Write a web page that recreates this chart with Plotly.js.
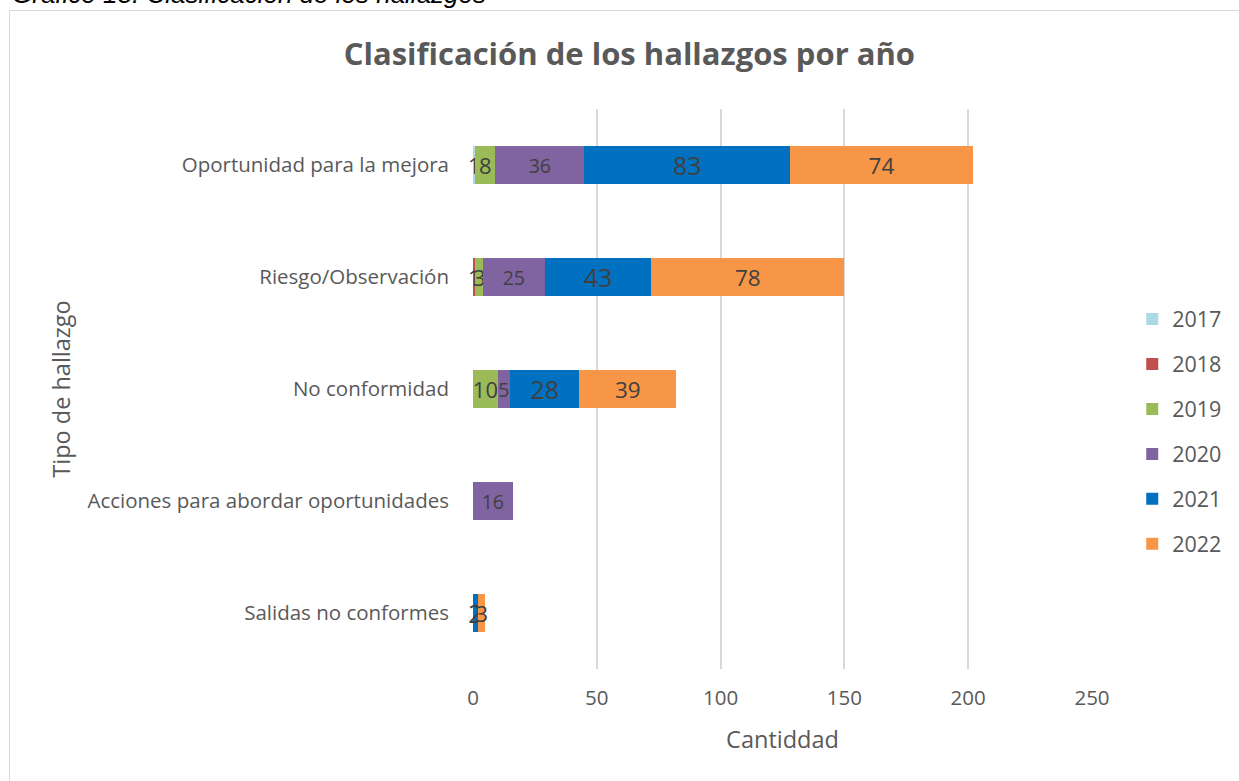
<!DOCTYPE html>
<html>
<head>
<meta charset="utf-8">
<script src="https://cdn.plot.ly/plotly-3.0.1.min.js"></script>
<style>
  html, body { margin: 0; padding: 0; background: #fff; overflow: hidden; }
  #cap { position: absolute; left: 12px; top: -21px; font-family: "Liberation Sans", Arial, sans-serif; font-style: italic; font-size: 26px; line-height: 30px; color: #000; white-space: nowrap; }
  #frame { position: absolute; left: 9px; top: 10px; width: 1240px; height: 780px; border: 1px solid #d9d9d9; box-sizing: border-box; }
  #chart { position: absolute; left: 0; top: 0; width: 1239px; height: 781px; }
</style>
</head>
<body>
<div id="cap">Gráfico 13. Clasificación de los hallazgos</div>
<div id="frame"></div>
<div id="chart"></div>
<script>
const categories = ["Oportunidad para la mejora", "Riesgo/Observación", "No conformidad", "Acciones para abordar oportunidades", "Salidas no conformes"];
const years = ["2017", "2018", "2019", "2020", "2021", "2022"];
const v2017 = [1, null, null, null, null];
const v2018 = [null, 1, null, null, null];
const v2019 = [8, 3, 10, null, null];
const v2020 = [36, 25, 5, 16, null];
const v2021 = [83, 43, 28, null, 2];
const v2022 = [74, 78, 39, null, 3];
const xTicks = [0, 50, 100, 150, 200, 250];

const series = [v2017, v2018, v2019, v2020, v2021, v2022];
const colors = ["#add8e6", "#c0504d", "#9bbb59", "#8064a2", "#0070c0", "#f79646"];
const labelSizes = [22, 22, 22, 19.5, 25, 22.5];
const FONT = "Open Sans, sans-serif";

const traces = series.map((vals, i) => ({
  type: "bar",
  orientation: "h",
  name: years[i],
  legendgroup: years[i],
  y: categories,
  x: vals,
  marker: { color: colors[i], line: { width: 0 } },
  text: vals.map(v => v === null ? "" : String(v)),
  textposition: "inside",
  insidetextanchor: "middle",
  textangle: 0,
  constraintext: "none",
  cliponaxis: false,
  textfont: { family: FONT, size: labelSizes[i], color: "#404040" },
  hoverinfo: "skip"
}));

const layout = {
  width: 1239, height: 781,
  paper_bgcolor: "rgba(0,0,0,0)",
  plot_bgcolor: "rgba(0,0,0,0)",
  barmode: "stack",
  bargap: 0.66,
  margin: { l: 473, r: 142, t: 109, b: 112 },
  title: {
    text: "<b>Clasificación de los hallazgos por año</b>",
    font: { family: FONT, size: 31, color: "#595959" },
    x: 0.508, xanchor: "center", y: 0.931, yanchor: "middle"
  },
  xaxis: {
    range: [0, 250],
    tickvals: xTicks,
    ticktext: xTicks.map(String),
    showgrid: true, gridcolor: "#d9d9d9", gridwidth: 2,
    zeroline: false, showline: false,
    ticks: "", ticklen: 0,
    ticklabelstandoff: 14,
    tickfont: { family: FONT, size: 20.5, color: "#595959" },
    title: { text: "Cantiddad", font: { family: FONT, size: 23.5, color: "#595959" }, standoff: 22 },
    fixedrange: true
  },
  yaxis: {
    type: "category",
    categoryorder: "array",
    categoryarray: categories,
    autorange: "reversed",
    showgrid: false, zeroline: false, showline: false,
    ticks: "", ticklen: 0,
    ticklabelstandoff: 23,
    tickfont: { family: FONT, size: 20.5, color: "#595959" },
    title: { text: "Tipo de hallazgo", font: { family: FONT, size: 23.5, color: "#595959" }, standoff: 10 },
    fixedrange: true
  },
  legend: {
    x: 1.065, xanchor: "left",
    y: 0.424, yanchor: "middle",
    traceorder: "grouped",
    tracegroupgap: 14,
    itemwidth: 30,
    font: { family: FONT, size: 21.5, color: "#595959" },
    bgcolor: "rgba(0,0,0,0)"
  },
  showlegend: true
};

Plotly.newPlot("chart", traces, layout, { displayModeBar: false, staticPlot: true });
</script>
</body>
</html>
